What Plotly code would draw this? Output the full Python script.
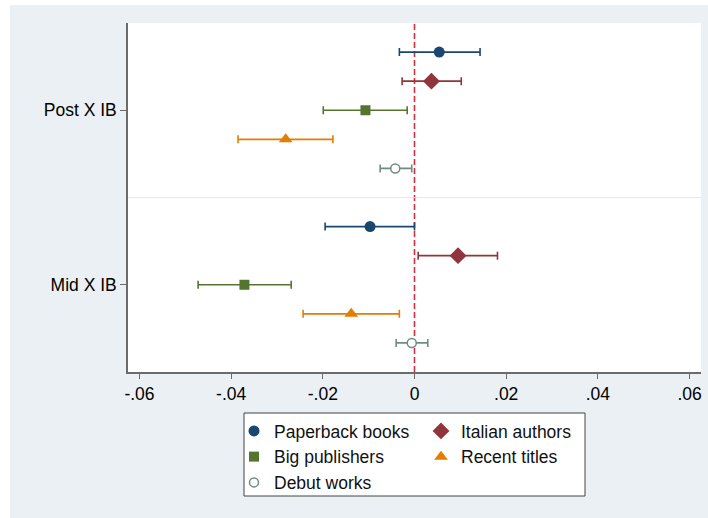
import plotly.graph_objects as go

# ---- data ----
series = ["Paperback books", "Italian authors", "Big publishers", "Recent titles", "Debut works"]
groups = ["Post X IB", "Mid X IB"]
post_est = [0.0054, 0.0037, -0.0107, -0.0281, -0.0042]
post_lo = [-0.0033, -0.0027, -0.0199, -0.0385, -0.0075]
post_hi = [0.0143, 0.0102, -0.0016, -0.0178, -0.0006]
mid_est = [-0.0097, 0.0095, -0.0371, -0.0138, -0.0006]
mid_lo = [-0.0195, 0.0008, -0.0472, -0.0243, -0.0040]
mid_hi = [0.0000, 0.0181, -0.0269, -0.0033, 0.0029]
x_tickvals = [-0.06, -0.04, -0.02, 0, 0.02, 0.04, 0.06]
x_ticktext = ["-.06", "-.04", "-.02", "0", ".02", ".04", ".06"]

# ---- styles ----
colors = ["#1a476f", "#90353b", "#55752f", "#e37e00", "#6e8e84"]
symbols = ["circle", "diamond", "square", "triangle-up", "circle"]
sizes = [11, 13, 10, 12, 9]
legend_ids = ["legend", "legend2", "legend", "legend2", "legend"]
FONT = "Liberation Sans, Arial, Helvetica, sans-serif"
FS = 17.5
BG = "#eaf0f3"
AXIS = "#6b6b6b"

# plot-area geometry (pixels)
L, R, T, B = 128, 7, 23, 146
PW, PH = 708 - L - R, 518 - T - B


def px_x(p):
    return (p - L) / PW


def px_y(p):
    return (518 - B - p) / PH


fig = go.Figure()
group_pos = [1, 2]
for i, name in enumerate(series):
    off = (i - 2) / 6.0
    est = [post_est[i], mid_est[i]]
    lo = [post_lo[i], mid_lo[i]]
    hi = [post_hi[i], mid_hi[i]]
    hollow = (i == 4)
    fig.add_trace(go.Scatter(
        x=est,
        y=[g + off for g in group_pos],
        mode="markers",
        name=name,
        legend=legend_ids[i],
        marker=dict(symbol=symbols[i], size=sizes[i], color="white" if hollow else colors[i],
                    line=dict(color=colors[i], width=1.5 if hollow else 0)),
        error_x=dict(type="data", symmetric=False,
                     array=[h - e for h, e in zip(hi, est)],
                     arrayminus=[e - l for e, l in zip(est, lo)],
                     color=colors[i], thickness=1.6, width=4),
    ))

# reference line at zero and separator between groups
fig.add_shape(type="line", xref="x", yref="y domain", x0=0, x1=0, y0=0, y1=1,
              line=dict(color="#d0303f", width=1.6, dash="6px,3px"), layer="below")
fig.add_shape(type="line", xref="x domain", yref="y", x0=0, x1=1, y0=1.5, y1=1.5,
              line=dict(color="#e3eaed", width=1), layer="below")

# white outer strips (top/left) of the image
fig.add_shape(type="rect", xref="paper", yref="paper", x0=px_x(0), x1=px_x(10), y0=px_y(518), y1=px_y(0),
              fillcolor="white", line=dict(width=0), layer="below")
fig.add_shape(type="rect", xref="paper", yref="paper", x0=px_x(0), x1=px_x(708), y0=px_y(5), y1=px_y(0),
              fillcolor="white", line=dict(width=0), layer="below")

# legend box
fig.add_shape(type="rect", xref="paper", yref="paper",
              x0=px_x(244), x1=px_x(585), y0=px_y(496), y1=px_y(413),
              fillcolor="white", line=dict(color="#444444", width=1), layer="below")

legend_common = dict(orientation="v", yanchor="top", xanchor="left",
                     bgcolor="rgba(0,0,0,0)", borderwidth=0,
                     font=dict(family=FONT, size=FS, color="#111111"),
                     itemclick=False, itemdoubleclick=False)

fig.update_layout(
    width=708, height=518,
    margin=dict(l=L, r=R, t=T, b=B),
    paper_bgcolor=BG, plot_bgcolor="white",
    font=dict(family=FONT, size=FS, color="black"),
    showlegend=True,
    legend=dict(x=px_x(234), y=px_y(413), **legend_common),
    legend2=dict(x=px_x(421), y=px_y(413), **legend_common),
    xaxis=dict(range=[-0.0625, 0.0625], tickvals=x_tickvals, ticktext=x_ticktext,
               showgrid=False, zeroline=False, showline=True, linecolor=AXIS, linewidth=1.5,
               ticks="outside", ticklen=5, tickwidth=1, tickcolor=AXIS),
    yaxis=dict(range=[2.5, 0.5], tickvals=group_pos, ticktext=groups,
               showgrid=False, zeroline=False, showline=True, linecolor=AXIS, linewidth=1.5,
               ticks="outside", ticklen=6, tickwidth=1, tickcolor=AXIS),
)

fig.write_html("out.html", config={"displayModeBar": False},
               post_script="document.body.style.margin='0';document.body.style.overflow='hidden';")
